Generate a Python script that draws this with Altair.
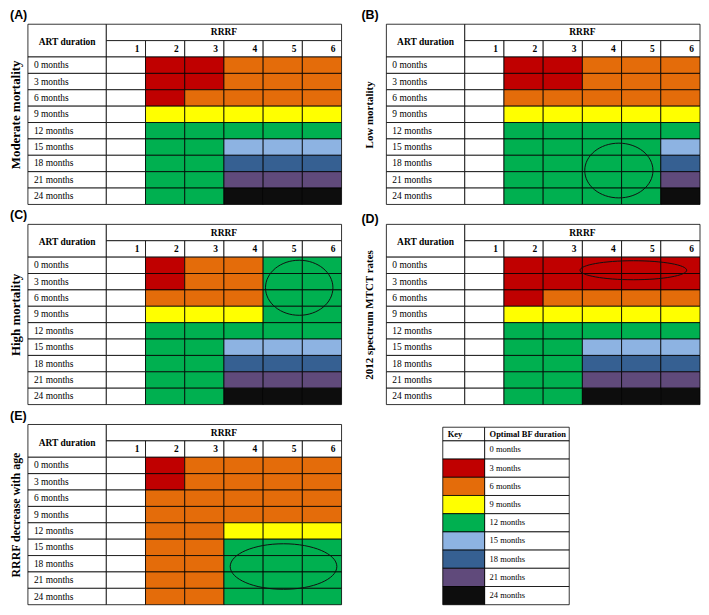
import altair as alt
import pandas as pd

# ---------------- data ----------------
ART_DURATIONS = ["0 months", "3 months", "6 months", "9 months", "12 months",
                 "15 months", "18 months", "21 months", "24 months"]
RRRF_VALUES = [1, 2, 3, 4, 5, 6]
BF_KEYS = ["0 months", "3 months", "6 months", "9 months", "12 months",
           "15 months", "18 months", "21 months", "24 months"]
BF_COLORS = ["#FFFFFF", "#C00000", "#E46C0A", "#FFFF00", "#00B050",
             "#8DB3E2", "#366092", "#604A7B", "#0D0D0D"]

# optimal BF duration (months): rows = ART duration, columns = RRRF 1..6
PANEL_A_BF = [[0, 3, 3, 6, 6, 6],
              [0, 3, 3, 6, 6, 6],
              [0, 3, 6, 6, 6, 6],
              [0, 9, 9, 9, 9, 9],
              [0, 12, 12, 12, 12, 12],
              [0, 12, 12, 15, 15, 15],
              [0, 12, 12, 18, 18, 18],
              [0, 12, 12, 21, 21, 21],
              [0, 12, 12, 24, 24, 24]]
PANEL_B_BF = [[0, 3, 3, 6, 6, 6],
              [0, 3, 3, 6, 6, 6],
              [0, 6, 6, 6, 6, 6],
              [0, 9, 9, 9, 9, 9],
              [0, 12, 12, 12, 12, 12],
              [0, 12, 12, 12, 12, 15],
              [0, 12, 12, 12, 12, 18],
              [0, 12, 12, 12, 12, 21],
              [0, 12, 12, 12, 12, 24]]
PANEL_C_BF = [[0, 3, 6, 6, 12, 12],
              [0, 3, 6, 6, 12, 12],
              [0, 6, 6, 6, 12, 12],
              [0, 9, 9, 9, 12, 12],
              [0, 12, 12, 12, 12, 12],
              [0, 12, 12, 15, 15, 15],
              [0, 12, 12, 18, 18, 18],
              [0, 12, 12, 21, 21, 21],
              [0, 12, 12, 24, 24, 24]]
PANEL_D_BF = [[0, 3, 3, 3, 3, 3],
              [0, 3, 3, 3, 3, 3],
              [0, 3, 6, 6, 6, 6],
              [0, 9, 9, 9, 9, 9],
              [0, 12, 12, 12, 12, 12],
              [0, 12, 12, 15, 15, 15],
              [0, 12, 12, 18, 18, 18],
              [0, 12, 12, 21, 21, 21],
              [0, 12, 12, 24, 24, 24]]
PANEL_E_BF = [[0, 3, 6, 6, 6, 6],
              [0, 3, 6, 6, 6, 6],
              [0, 6, 6, 6, 6, 6],
              [0, 6, 6, 6, 6, 6],
              [0, 6, 6, 9, 9, 9],
              [0, 6, 6, 12, 12, 12],
              [0, 6, 6, 12, 12, 12],
              [0, 6, 6, 12, 12, 12],
              [0, 6, 6, 12, 12, 12]]

PANEL_LABELS = ["(A)", "(B)", "(C)", "(D)", "(E)"]
PANEL_YTITLES = ["Moderate mortality", "Low mortality", "High mortality",
                 "2012 spectrum MTCT rates", "RRRF decrease with age"]
# highlight ellipses in table units: (centre x, centre y, half width, half height)
ELLIPSE_B = (5.93, 8.93, 0.87, 1.67)
ELLIPSE_C = (6.92, 3.87, 0.86, 1.68)
ELLIPSE_D = (6.30, 2.80, 1.36, 0.58)
ELLIPSE_E = (6.52, 8.67, 1.36, 1.39)

KEY_HEADER = ["Key", "Optimal BF duration"]

# ---------------- layout / style ----------------
SERIF = "Liberation Serif"
SANS = "Liberation Sans"
TW, TH = 315, 181
NCOL, NROW = 8, 11
FS = 9.5
KFS = 8.5


def table_panel(letter, ytitle, grid, ellipse, title_pad, title_size, t_dx, t_dy):
    xs = alt.Scale(domain=[0, NCOL], nice=False, zero=False)
    ys = alt.Scale(domain=[0, NROW], nice=False, zero=False, reverse=True)
    yax = alt.Axis(title=ytitle, labels=False, ticks=False, domain=False, grid=False,
                   titlePadding=title_pad, titleFont=SERIF, titleFontSize=title_size,
                   titleFontWeight="bold", titleColor="black")

    def X(f):
        return alt.X(f"{f}:Q", scale=xs, axis=None)

    def Y(f):
        return alt.Y(f"{f}:Q", scale=ys, axis=yax)

    header = pd.DataFrame([
        {"x": 0, "x2": 2, "y": 0, "y2": 2, "label": "ART duration", "xt": 1, "yt": 1.1},
        {"x": 2, "x2": NCOL, "y": 0, "y2": 1, "label": "RRRF", "xt": 5, "yt": 0.5},
    ])
    nums = pd.DataFrame([{"x": c + 1, "x2": c + 2, "y": 1, "y2": 2, "label": str(c), "yt": 1.5}
                         for c in RRRF_VALUES])
    rowlab = pd.DataFrame([{"x": 0, "x2": 2, "y": i + 2, "y2": i + 3, "label": lab, "yt": i + 2.5}
                           for i, lab in enumerate(ART_DURATIONS)])
    cells = pd.DataFrame([{"x": c + 1, "x2": c + 2, "y": i + 2, "y2": i + 3, "bf": f"{v} months"}
                          for i, row in enumerate(grid) for c, v in zip(RRRF_VALUES, row)])

    white = alt.Chart(pd.concat([header, nums, rowlab])).mark_rect(
        fill="white", stroke="black", strokeWidth=0.8
    ).encode(x=X("x"), x2="x2:Q", y=Y("y"), y2="y2:Q")
    colored = alt.Chart(cells).mark_rect(stroke="black", strokeWidth=0.8).encode(
        x=X("x"), x2="x2:Q", y=Y("y"), y2="y2:Q",
        color=alt.Color("bf:N", scale=alt.Scale(domain=BF_KEYS, range=BF_COLORS), legend=None),
    )
    htext = alt.Chart(header).mark_text(font=SERIF, fontWeight="bold", fontSize=FS, color="black").encode(
        x=X("xt"), y=Y("yt"), text="label:N")
    ntext = alt.Chart(nums).mark_text(font=SERIF, fontWeight="bold", fontSize=FS, color="black",
                                      align="right", dx=-6).encode(
        x=X("x2"), y=Y("yt"), text="label:N")
    rtext = alt.Chart(rowlab).mark_text(font=SERIF, fontSize=FS, color="black",
                                        align="left", dx=6).encode(
        x=X("x"), y=Y("yt"), text="label:N")
    layers = [white, colored, htext, ntext, rtext]
    if ellipse is not None:
        cx, cy, hw, hh = ellipse
        rx = hw * TW / NCOL
        ry = hh * TH / NROW
        k = ry / rx
        path = f"M-1,0A1,{k:.4f} 0 1,1 1,0A1,{k:.4f} 0 1,1 -1,0Z"
        ell = alt.Chart(pd.DataFrame({"cx": [cx], "cy": [cy]})).mark_point(
            shape=path, size=(2 * rx) ** 2, filled=False, stroke="#111111",
            strokeWidth=1, opacity=1
        ).encode(x=X("cx"), y=Y("cy"))
        layers.append(ell)
    return alt.layer(*layers).properties(
        width=TW, height=TH,
        title=alt.TitleParams(letter, anchor="start", font=SANS, fontSize=12.5, fontWeight="bold",
                              color="black", offset=2, dx=t_dx, dy=t_dy),
    )


def key_panel():
    # the key sits in a grid cell as wide as a table; its own box is 130 units wide
    LEFT_GAP = 58
    xs = alt.Scale(domain=[-LEFT_GAP, -LEFT_GAP + TW * 130 / 127], nice=False, zero=False)
    ys = alt.Scale(domain=[-0.15, 9.75], nice=False, zero=False, reverse=True)

    def X(f):
        return alt.X(f"{f}:Q", scale=xs, axis=None)

    def Y(f):
        return alt.Y(f"{f}:Q", scale=ys, axis=None)

    head = pd.DataFrame([
        {"x": 0, "x2": 43, "y": 0, "y2": 0.75, "label": KEY_HEADER[0], "yt": 0.375},
        {"x": 43, "x2": 130, "y": 0, "y2": 0.75, "label": KEY_HEADER[1], "yt": 0.375},
    ])
    labs = pd.DataFrame([{"x": 43, "x2": 130, "y": 0.75 + i, "y2": 1.75 + i, "label": k, "yt": 1.22 + i}
                         for i, k in enumerate(BF_KEYS)])
    keys = pd.DataFrame([{"x": 0, "x2": 43, "y": 0.75 + i, "y2": 1.75 + i, "bf": k}
                         for i, k in enumerate(BF_KEYS)])
    white = alt.Chart(pd.concat([head, labs])).mark_rect(fill="white", stroke="black", strokeWidth=0.8).encode(
        x=X("x"), x2="x2:Q", y=Y("y"), y2="y2:Q")
    colored = alt.Chart(keys).mark_rect(stroke="black", strokeWidth=0.8).encode(
        x=X("x"), x2="x2:Q", y=Y("y"), y2="y2:Q",
        color=alt.Color("bf:N", scale=alt.Scale(domain=BF_KEYS, range=BF_COLORS), legend=None))
    htext = alt.Chart(head).mark_text(font=SERIF, fontWeight="bold", fontSize=KFS, color="#000000",
                                      align="left", dx=5).encode(x=X("x"), y=Y("yt"), text="label:N")
    ltext = alt.Chart(labs).mark_text(font=SERIF, fontWeight="normal", fontSize=KFS, fill="#000000",
                                      align="left", dx=5).encode(x=X("x"), y=Y("yt"), text="label:N")
    return alt.layer(white, colored, htext, ltext).properties(width=TW, height=TH)


pA = table_panel(PANEL_LABELS[0], PANEL_YTITLES[0], PANEL_A_BF, None, 5, 13, 0, 0)
pB = table_panel(PANEL_LABELS[1], PANEL_YTITLES[1], PANEL_B_BF, ELLIPSE_B, 12, 11, -2, 0)
pC = table_panel(PANEL_LABELS[2], PANEL_YTITLES[2], PANEL_C_BF, ELLIPSE_C, 5, 13, 0, 0)
pD = table_panel(PANEL_LABELS[3], PANEL_YTITLES[3], PANEL_D_BF, ELLIPSE_D, 12, 11, -2, 4)
pE = table_panel(PANEL_LABELS[4], PANEL_YTITLES[4], PANEL_E_BF, ELLIPSE_E, 5, 12, 0, 0)
pK = key_panel()

chart = alt.concat(
    pA, pB, pC, pD, pE, pK,
    columns=2, spacing={"row": 20, "column": 45}, bounds="flush",
).configure_view(strokeWidth=0).properties(
    padding={"left": 2, "top": 0, "right": 0, "bottom": 0}
)

chart.save("out.html", embed_options={"renderer": "svg", "actions": False})
